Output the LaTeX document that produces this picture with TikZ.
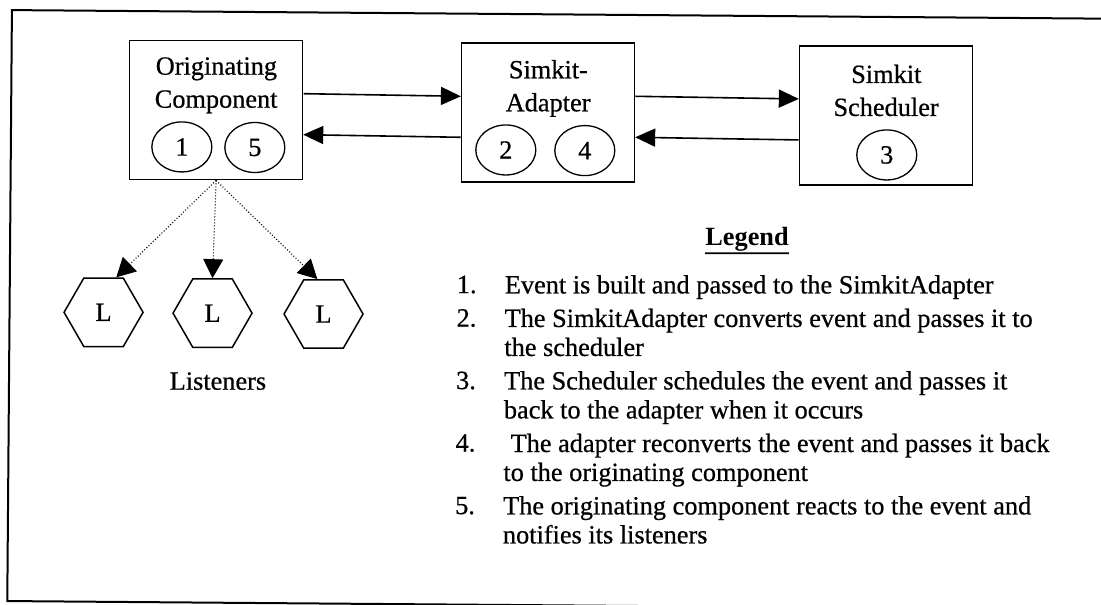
\documentclass[tikz,border=0pt]{standalone}
\usepackage{fontspec}
\setmainfont{Liberation Serif}[UprightFeatures={FakeBold=0.6}]
\usetikzlibrary{arrows.meta,shapes.geometric}

\begin{document}
\begin{tikzpicture}[x=1pt,y=-1pt,
  every node/.style={font=\fontsize{26.3}{29}\selectfont, inner sep=0pt},
  compbox/.style={draw, line width=1.6pt, minimum width=173pt, minimum height=139pt},
  stepnum/.style={draw, ellipse, line width=1.3pt, minimum width=60pt, minimum height=50pt},
  listener/.style={draw, regular polygon, regular polygon sides=6,
                   minimum size=79pt, line width=1.5pt},
  flow/.style={line width=1.6pt, -{Triangle[length=20pt,width=18pt]}},
  notify/.style={line width=1.1pt, dash pattern=on 1pt off 2pt,
                 -{Triangle[length=19pt,width=20pt]}},
  legendline/.style={anchor=base west},
  boxlabel/.style={anchor=base},
]
\clip (0,0) rectangle (1101,605);
\begin{scope}[rotate=-0.45]
  % outer frame
  \draw[line width=2pt] (1130,10) -- (12,10) -- (12,601) -- (1130,601);

  % components
  \node[compbox] (orig) at (217,108.5) {};
  \node[compbox] (adapt) at (549,108.5) {};
  \node[compbox] (sched) at (887,108.5) {};

  \node[boxlabel] (origA) at (217,73) {Originating};
  \node[boxlabel] (origB) at (217,106) {Component};
  \node[boxlabel] (adaptA) at (549,74) {Simkit-};
  \node[boxlabel] (adaptB) at (549,107) {Adapter};
  \node[boxlabel] (schedA) at (887,76) {Simkit};
  \node[boxlabel] (schedB) at (887,109) {Scheduler};

  % numbered steps
  \node[stepnum] (s1) at (183,145.5) {1};
  \node[stepnum] (s5) at (256,145.5) {5};
  \node[stepnum] (s2) at (507,146) {2};
  \node[stepnum] (s4) at (586,146) {4};
  \node[stepnum] (s3) at (888,148) {3};

  % event flow
  \draw[flow] ([yshift=16.5pt]orig.east) -- ([yshift=16.5pt]adapt.west);
  \draw[flow] ([yshift=-24.5pt]adapt.west) -- ([yshift=-24.5pt]orig.east);
  \draw[flow] ([yshift=16.5pt]adapt.east) -- ([yshift=16.5pt]sched.west);
  \draw[flow] ([yshift=-24.5pt]sched.west) -- ([yshift=-24.5pt]adapt.east);

  % listeners
  \node[listener] (l1) at (106,311.5) {L};
  \node[listener] (l2) at (215,311.5) {L};
  \node[listener] (l3) at (326,311.5) {L};
  \node[boxlabel] (lst) at (221,388) {Listeners};

  \draw[notify] (orig.south) -- (l1.70);
  \draw[notify] (orig.south) -- (l2.north);
  \draw[notify] (orig.south) -- (l3.100);

  % legend
  \node[anchor=base, font=\bfseries\fontsize{26.3}{29}\selectfont] (legend) at (749,240) {Legend};
  \draw[line width=1.8pt] ([yshift=-1.5pt]legend.south west) -- ([yshift=-1.5pt]legend.south east);

  \node[legendline] (n1) at (459,289.5) {1.};
  \node[legendline] (e1a) at (507,289.5) {Event is built and passed to the SimkitAdapter};

  \node[legendline] (n2) at (459,323) {2.};
  \node[legendline] (e2a) at (507,323) {The SimkitAdapter converts event and passes it to};
  \node[legendline] (e2b) at (507,352) {the scheduler};

  \node[legendline] (n3) at (459,385.5) {3.};
  \node[legendline] (e3a) at (507,385.5) {The Scheduler schedules the event and passes it};
  \node[legendline] (e3b) at (507,414.5) {back to the adapter when it occurs};

  \node[legendline] (n4) at (459,448) {4.};
  \node[legendline] (e4a) at (514,448) {The adapter reconverts the event and passes it back};
  \node[legendline] (e4b) at (507,477) {to the originating component};

  \node[legendline] (n5) at (459,510.5) {5.};
  \node[legendline] (e5a) at (507,510.5) {The originating component reacts to the event and};
  \node[legendline] (e5b) at (507,539.5) {notifies its listeners};
\end{scope}
\end{tikzpicture}
\end{document}
